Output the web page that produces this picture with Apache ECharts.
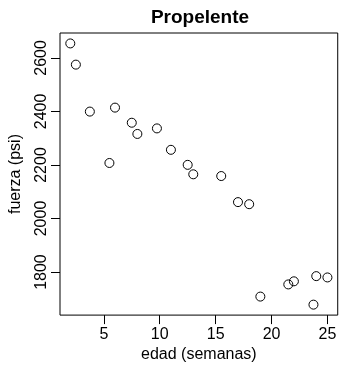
<!DOCTYPE html>
<html>
<head>
<meta charset="utf-8">
<script src="https://cdn.jsdelivr.net/npm/echarts@6/dist/echarts.min.js"></script>
<style>
  html, body { margin: 0; padding: 0; background: #fff; }
  #chart { width: 339px; height: 368px; }
</style>
</head>
<body>
<div id="chart"></div>
<script>
// edad (semanas) y fuerza (psi) del propelente
const edad = [15.50, 23.75, 8.00, 17.00, 5.50, 19.00, 24.00, 2.50, 7.50, 11.00,
              13.00, 3.75, 25.00, 9.75, 22.00, 18.00, 6.00, 12.50, 2.00, 21.50]
const fuerza = [2158.70, 1678.15, 2316.00, 2061.30, 2207.50, 1708.30, 1784.70, 2575.00, 2357.90, 2256.70,
                2165.20, 2399.55, 1779.80, 2336.75, 1765.30, 2053.50, 2414.40, 2200.50, 2654.20, 1753.70]
const xTicks = [5, 10, 15, 20, 25]
const yTicks = [1800, 2000, 2200, 2400, 2600]

const font = 'Liberation Sans, Arial, sans-serif'

const chart = echarts.init(document.getElementById('chart'))
const options = {
  animation: false,
  title: {
    text: 'Propelente',
    left: 195,
    top: 3,
    textAlign: 'center',
    textStyle: { fontFamily: font, fontSize: 19, fontWeight: 'bold', color: '#000' }
  },
  grid: {
    left: 51, right: -1, top: 33, bottom: 47,
    show: true, borderColor: '#000', borderWidth: 1, backgroundColor: 'transparent'
  },
  xAxis: {
    type: 'value',
    min: 1.08, max: 25.92,
    name: 'edad (semanas)',
    nameLocation: 'middle',
    nameGap: 29,
    nameTextStyle: { fontFamily: font, fontSize: 16, color: '#000' },
    axisLine: { show: false },
    splitLine: { show: false },
    axisTick: { show: true, length: 9, customValues: xTicks, lineStyle: { color: '#000' } },
    axisLabel: { customValues: xTicks, margin: 11, fontFamily: font, fontSize: 16, color: '#000',
                 formatter: v => String(v) }
  },
  yAxis: {
    type: 'value',
    min: 1639.1, max: 2693.2,
    name: 'fuerza (psi)',
    nameLocation: 'middle',
    nameGap: 36,
    nameTextStyle: { fontFamily: font, fontSize: 16, color: '#000' },
    axisLine: { show: false },
    splitLine: { show: false },
    axisTick: { show: true, length: 9, customValues: yTicks, lineStyle: { color: '#000' } },
    axisLabel: { customValues: yTicks, rotate: 90, margin: 10, fontFamily: font, fontSize: 16, color: '#000',
                 formatter: v => String(v) }
  },
  series: [{
    type: 'scatter',
    data: edad.map((x, i) => [x, fuerza[i]]),
    symbol: 'circle',
    symbolSize: 9,
    itemStyle: { color: 'transparent', borderColor: '#000', borderWidth: 1, opacity: 1 }
  }]
}
chart.setOption(options)
</script>
</body>
</html>
